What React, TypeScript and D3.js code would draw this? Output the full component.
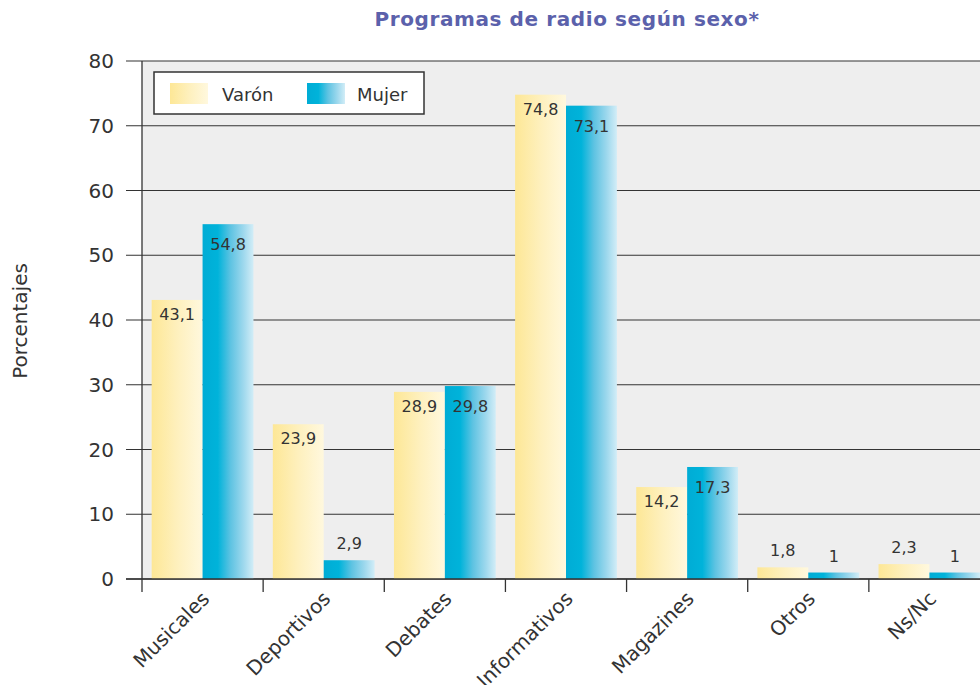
import * as d3 from "d3";

const categories = ["Musicales", "Deportivos", "Debates", "Informativos", "Magazines", "Otros", "Ns/Nc"];
const series = ["Varón", "Mujer"];
const varon = [43.1, 23.9, 28.9, 74.8, 14.2, 1.8, 2.3];
const mujer = [54.8, 2.9, 29.8, 73.1, 17.3, 1, 1];
const yTicks = [0, 10, 20, 30, 40, 50, 60, 70, 80];

const W = 980;
const H = 685;
const FONT = "'DejaVu Sans', sans-serif";
const INK = "#333333";

export default function App() {
  const y = d3.scaleLinear().domain([0, 80]).range([579, 61]);
  const x0 = d3.scaleBand<string>().domain(categories).range([142, 990]).padding(0);
  const x1 = d3
    .scaleBand<string>()
    .domain(series)
    .range([0, x0.bandwidth()])
    .paddingInner(0)
    .paddingOuter(0.19);
  const fmt = (v: number) => String(v).replace(".", ",");
  const values = [varon, mujer];

  return (
    <svg
      width={W}
      height={H}
      style={{ position: "absolute", left: 0, top: 0, background: "#fff" }}
      fontFamily={FONT}
    >
      <defs>
        <linearGradient id="gVaron" x1="0" x2="1" y1="0" y2="0">
          <stop offset="0" stopColor="#fde796" />
          <stop offset="0.5" stopColor="#fef0bd" />
          <stop offset="1" stopColor="#fff8de" />
        </linearGradient>
        <linearGradient id="gMujer" x1="0" x2="1" y1="0" y2="0">
          <stop offset="0" stopColor="#00acd5" />
          <stop offset="0.3" stopColor="#00b3da" />
          <stop offset="0.55" stopColor="#5ec3e2" />
          <stop offset="0.8" stopColor="#9dd8ed" />
          <stop offset="1" stopColor="#d2edf7" />
        </linearGradient>
      </defs>

      {/* Title */}
      <text
        x={567}
        y={26}
        textAnchor="middle"
        fontSize={20}
        fontWeight="bold"
        letterSpacing={0.6}
        fill="#5b61ab"
      >
        Programas de radio según sexo*
      </text>

      {/* Plot background */}
      <rect x={142} y={y(80)} width={W - 142} height={y(0) - y(80)} fill="#eeeeee" />

      {/* Grid + y ticks */}
      {yTicks.map((t) => (
        <g key={t}>
          <line x1={126} x2={W} y1={y(t)} y2={y(t)} stroke={INK} strokeWidth={1.2} />
          <text x={114} y={y(t)} dy="0.36em" textAnchor="end" fontSize={20} fill={INK}>
            {t}
          </text>
        </g>
      ))}

      {/* Bars */}
      {categories.map((c, i) => (
        <g key={c} transform={`translate(${x0(c)},0)`}>
          {series.map((s, j) => {
            const v = values[j][i];
            const bx = x1(s) ?? 0;
            const top = y(v);
            const inside = v > 5;
            return (
              <g key={s}>
                <rect
                  x={bx}
                  y={top}
                  width={x1.bandwidth()}
                  height={y(0) - top}
                  fill={j === 0 ? "url(#gVaron)" : "url(#gMujer)"}
                />
                <text
                  x={bx + x1.bandwidth() / 2}
                  y={inside ? top + (j === 0 ? 20 : 26) : top - 11}
                  textAnchor="middle"
                  fontSize={16}
                  fill={INK}
                >
                  {fmt(v)}
                </text>
              </g>
            );
          })}
        </g>
      ))}

      {/* Axes */}
      <line x1={142} x2={142} y1={y(80)} y2={592} stroke={INK} strokeWidth={1.3} />
      <line x1={126} x2={W} y1={y(0)} y2={y(0)} stroke={INK} strokeWidth={1.3} />
      {categories.map((c) => (
        <line
          key={c}
          x1={(x0(c) ?? 0) + x0.bandwidth()}
          x2={(x0(c) ?? 0) + x0.bandwidth()}
          y1={y(0)}
          y2={592}
          stroke={INK}
          strokeWidth={1.3}
        />
      ))}
      {categories.map((c) => {
        const cx = (x0(c) ?? 0) + x0.bandwidth() / 2 + 8;
        return (
          <text
            key={c}
            transform={`translate(${cx},600) rotate(-45)`}
            textAnchor="end"
            fontSize={20}
            fill={INK}
          >
            {c}
          </text>
        );
      })}

      {/* Y title */}
      <text
        transform="translate(27,321) rotate(-90)"
        textAnchor="middle"
        fontSize={20}
        fill={INK}
      >
        Porcentajes
      </text>

      {/* Legend */}
      <g>
        <rect x={154} y={72} width={270} height={42} fill="#fff" stroke={INK} strokeWidth={1.5} />
        <rect x={170} y={83} width={38} height={21} fill="url(#gVaron)" />
        <text x={222} y={101} fontSize={18} fill={INK}>
          Varón
        </text>
        <rect x={307} y={83} width={38} height={21} fill="url(#gMujer)" />
        <text x={357} y={101} fontSize={18} fill={INK}>
          Mujer
        </text>
      </g>
    </svg>
  );
}
